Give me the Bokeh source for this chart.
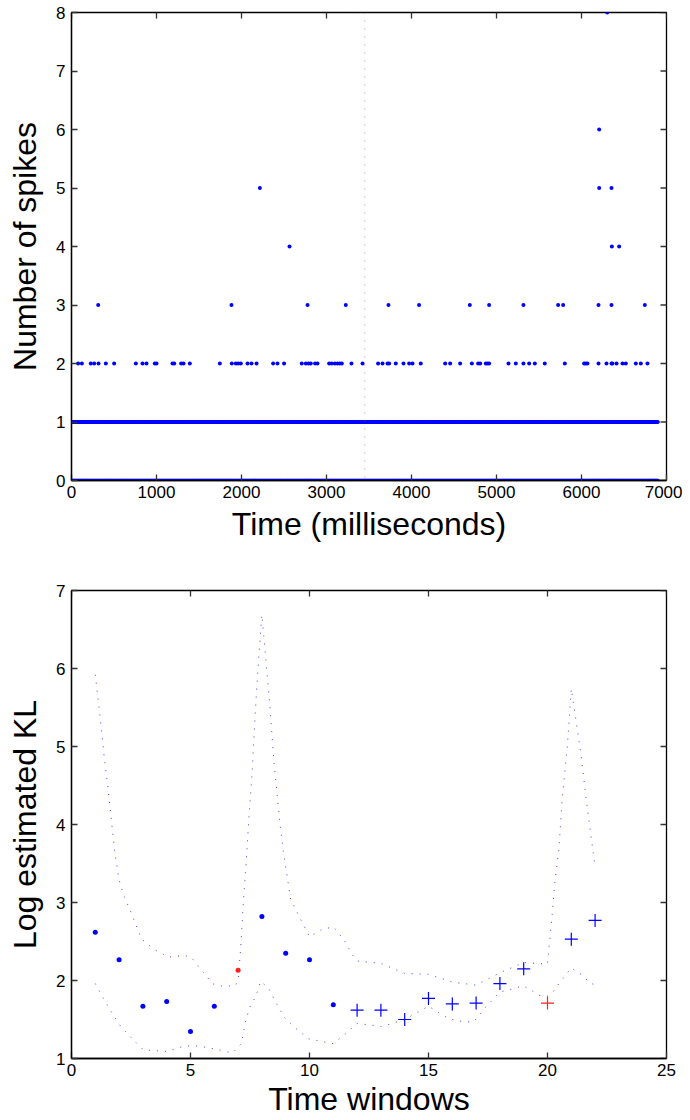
import math
import numpy as np
from bokeh.plotting import figure
from bokeh.layouts import column
from bokeh.models import FixedTicker, Span
from bokeh.embed import file_html
from bokeh.resources import INLINE

# ---------------- data: top panel (spike counts per 1 ms bin) ----------------
recording_start_ms = 0
recording_end_ms = 6900
bin_ms = 5                      # bins drawn for the dense 0 / 1 rows
change_point_ms = 3450

t_count2 = [78, 122, 227, 267, 318, 404, 502, 757, 835, 882, 980, 1000, 1188, 1208,
            1290, 1318, 1392, 1745, 1886, 1933, 1961, 1992, 2071, 2118, 2177, 2372,
            2423, 2501, 2709, 2757, 2788, 2815, 2866, 2894, 3031, 3062, 3098, 3129,
            3156, 3180, 3294, 3424, 3607, 3659, 3718, 3737, 3815, 3906, 3972, 4012,
            4109, 4396, 4455, 4572, 4710, 4784, 4808, 4874, 4894, 4913, 5141, 5227,
            5317, 5384, 5451, 5568, 5804, 6031, 6051, 6070, 6200, 6294, 6353, 6364,
            6412, 6482, 6521, 6639, 6698, 6776]
t_count3 = [314, 1882, 2777, 3227, 3729, 4089, 4686, 4913, 5317, 5725, 5784, 6200, 6353, 6745]
t_count4 = [2565, 6357, 6443]
t_count5 = [2216, 6208, 6353]
t_count6 = [6208]
t_count8 = [6302]

top_xticks = [0, 1000, 2000, 3000, 4000, 5000, 6000, 7000]
top_yticks = [0, 1, 2, 3, 4, 5, 6, 7, 8]

# ---------------- data: bottom panel (log estimated KL) ----------------
win_dot = [1, 2, 3, 4, 5, 6, 7, 8, 9, 10, 11]
kl_dot = [2.62, 2.265, 1.67, 1.73, 1.346, 1.67, 2.13, 2.82, 2.35, 2.265, 1.69]
dot_red_window = 7

win_cross = [12, 13, 14, 15, 16, 17, 18, 19, 20, 21, 22]
kl_cross = [1.62, 1.62, 1.50, 1.77, 1.70, 1.71, 1.96, 2.15, 1.71, 2.53, 2.77]
cross_red_window = 20

upper_x = [1.0, 1.23, 1.37, 1.54, 1.68, 1.83, 2.0, 2.18, 2.45, 2.7, 2.95, 3.47, 4.07,
           4.77, 5.05, 5.47, 5.92, 6.18, 6.87, 7.0, 7.11, 7.21, 7.35, 7.46, 7.58, 7.67,
           7.77, 7.88, 8.0, 8.12, 8.33, 8.51, 8.77, 8.91, 9.21, 9.7, 10.0, 10.5, 11.0,
           11.45, 11.8, 12.0, 13.0, 14.0, 15.0, 16.0, 17.0, 18.0, 19.0, 20.0, 20.06,
           20.2, 20.31, 20.48, 20.61, 20.84, 21.0, 21.2, 21.4, 21.64, 22.0]
upper_y = [5.92, 5.30, 4.88, 4.45, 4.04, 3.62, 3.29, 3.10, 2.91, 2.72, 2.53, 2.40, 2.30,
           2.32, 2.29, 2.13, 1.96, 1.93, 1.93, 2.0, 2.42, 2.95, 3.57, 4.11, 4.62, 5.15,
           5.69, 6.20, 6.69, 6.27, 5.54, 4.79, 3.98, 3.63, 3.04, 2.74, 2.56, 2.65, 2.69,
           2.52, 2.33, 2.25, 2.22, 2.09, 2.08, 1.98, 1.94, 2.10, 2.23, 2.21, 2.41,
           2.85, 3.27, 3.68, 4.30, 5.03, 5.74, 5.33, 4.91, 4.29, 3.45]

lower_x = [1.0, 1.34, 1.69, 2.07, 2.53, 3.02, 4.03, 4.73, 5.36, 6.06, 6.76, 7.14, 7.32,
           7.53, 7.74, 7.95, 8.28, 8.61, 8.93, 9.45, 9.98, 10.66, 10.99, 11.53, 12.0,
           13.05, 14.0, 15.0, 15.85, 16.48, 16.9, 17.32, 17.98, 18.98, 19.29, 19.64,
           19.99, 20.2, 20.48, 20.76, 21.0, 21.46, 21.74, 22.0]
lower_y = [1.96, 1.77, 1.59, 1.41, 1.26, 1.11, 1.09, 1.16, 1.16, 1.12, 1.07, 1.19, 1.49,
           1.69, 1.79, 1.99, 1.90, 1.71, 1.53, 1.38, 1.25, 1.21, 1.19, 1.32, 1.45,
           1.41, 1.50, 1.67, 1.51, 1.47, 1.47, 1.63, 1.85, 1.93, 1.88, 1.81,
           1.80, 1.84, 1.96, 2.07, 2.16, 2.07, 1.98, 1.94]

bot_xticks = [0, 5, 10, 15, 20, 25]
bot_yticks = [1, 2, 3, 4, 5, 6, 7]

FONT = "Liberation Sans"
BLUE = "#0000ff"
RED = "#ff2020"
TICK = "#333333"


def style_axes(p, xticks, yticks, xlabel, ylabel, xlabel_standoff):
    bottom = p.below[0]
    left = p.left[0]
    for ax, ticks in ((bottom, xticks), (left, yticks)):
        ax.ticker = FixedTicker(ticks=ticks)
        ax.major_tick_in = 6
        ax.major_tick_out = 0
        ax.minor_tick_in = 0
        ax.minor_tick_out = 0
        ax.axis_line_color = "black"
        ax.axis_line_width = 1.3
        ax.major_tick_line_color = TICK
        ax.major_tick_line_width = 1.3
        ax.major_label_text_font = FONT
        ax.major_label_text_font_size = "17px"
        ax.major_label_text_color = "black"
        ax.axis_label_text_font = FONT
        ax.axis_label_text_font_style = "normal"
        ax.axis_label_text_font_size = "32px"
        ax.axis_label_text_color = "black"
    bottom.axis_label = xlabel
    left.axis_label = ylabel
    bottom.major_label_standoff = 5
    left.major_label_standoff = 6
    bottom.axis_label_standoff = xlabel_standoff
    left.axis_label_standoff = 10
    p.xgrid.visible = False
    p.ygrid.visible = False
    p.outline_line_color = "black"
    p.outline_line_width = 1.3
    # inward ticks on the top and right edges of the box (half of each dash is
    # clipped away by the frame, leaving a 6 px inward tick)
    x1 = p.x_range.end
    y1 = p.y_range.end
    p.scatter(xticks, [y1] * len(xticks), marker="dash", angle=math.pi / 2, size=12,
              line_color=TICK, line_width=1.3)
    p.scatter([x1] * len(yticks), yticks, marker="dash", size=12,
              line_color=TICK, line_width=1.3)


# ---------------- top figure ----------------
p1 = figure(width=682, height=544, x_range=(0, 7000), y_range=(0, 8),
            output_backend="svg", toolbar_location=None,
            min_border_left=71, min_border_right=16, min_border_top=12, min_border_bottom=64)
style_axes(p1, top_xticks, top_yticks, "Time (milliseconds)", "Number of spikes", 5)

bins = np.arange(recording_start_ms, recording_end_ms + 1, bin_ms)
p1.scatter(bins, np.zeros(len(bins)), size=3.6, color=BLUE, line_color=None)
p1.scatter(bins[2:], np.ones(len(bins) - 2), size=3.6, color=BLUE, line_color=None)
for level, times in ((2, t_count2), (3, t_count3), (4, t_count4), (5, t_count5),
                     (6, t_count6), (8, t_count8)):
    p1.scatter(times, [level] * len(times), size=4, color=BLUE, line_color=None)

p1.add_layout(Span(location=change_point_ms, dimension="height", line_color=RED,
                   line_alpha=0.6, line_width=1, line_dash="1 7"))

# ---------------- bottom figure ----------------
p2 = figure(width=682, height=576, x_range=(0, 25), y_range=(1, 7),
            output_backend="svg", toolbar_location=None,
            min_border_left=71, min_border_right=16, min_border_top=46, min_border_bottom=62)
style_axes(p2, bot_xticks, bot_yticks, "Time windows", "Log estimated KL", 2)

p2.line(upper_x, upper_y, color=BLUE, line_alpha=0.75, line_width=1, line_dash="1 7")
p2.line(lower_x, lower_y, color=BLUE, line_alpha=0.75, line_width=1, line_dash="1 7")

dot_colors = [RED if w == dot_red_window else BLUE for w in win_dot]
p2.scatter(win_dot, kl_dot, size=5, color=dot_colors, line_color=None)
cross_colors = [RED if w == cross_red_window else BLUE for w in win_cross]
p2.scatter(win_cross, kl_cross, marker="cross", size=13, line_color=cross_colors,
           line_width=1.2)

layout = column(p1, p2, spacing=0)
open("out.html", "w").write(file_html(layout, INLINE))
